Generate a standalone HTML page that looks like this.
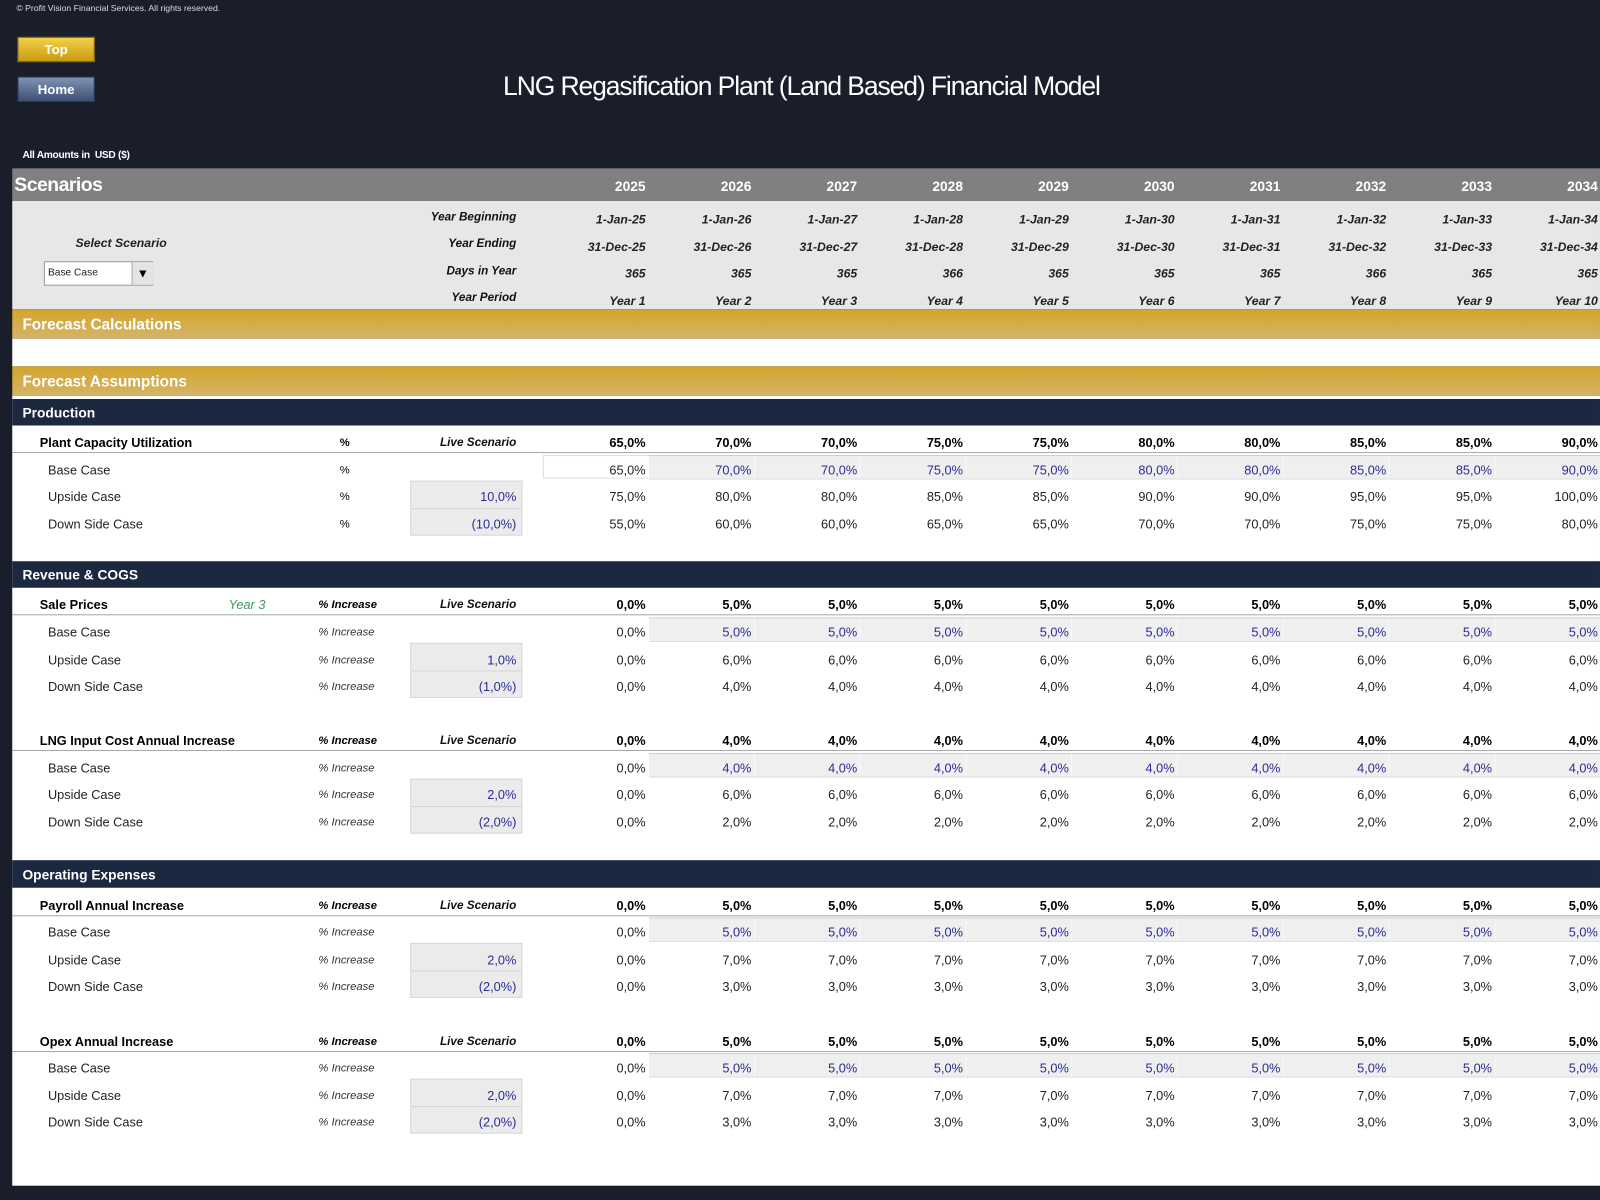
<!DOCTYPE html>
<html><head><meta charset="utf-8">
<style>
html,body{margin:0;padding:0;background:#1a1e2b;}
body{width:1600px;height:1200px;overflow:hidden;position:relative;font-family:"Liberation Sans",sans-serif;}
.s{position:absolute;left:0;top:0;width:1568px;height:1176px;transform:scale(1.0204);transform-origin:0 0;}
.a{position:absolute;white-space:nowrap;}
.r{position:absolute;left:529px;display:flex;height:16px;line-height:16px;font-size:12.5px;color:#222;margin-top:1px;}
.r span{width:103.7px;text-align:right;display:block;flex:none;}
.b{font-weight:bold;color:#000;}
.bl span{color:#2b2b95;}
.bl span:first-child{color:#222;}
.hd{color:#fff;font-weight:bold;font-size:13.5px;}
.it{font-style:italic;font-weight:bold;color:#222;font-size:12px;}
.lab{position:absolute;left:39px;font-weight:bold;font-size:12.5px;color:#000;line-height:16px;margin-top:1px;}
.sub{position:absolute;left:47px;font-size:12.5px;color:#222;line-height:16px;margin-top:1px;}
.u{position:absolute;left:312px;font-style:italic;font-size:11px;color:#333;line-height:16px;margin-top:1px;}
.ub{font-weight:bold;color:#000;}
.ls{position:absolute;right:1062px;font-style:italic;font-weight:bold;font-size:11.5px;color:#111;line-height:16px;margin-top:1px;}
.line{position:absolute;left:12px;width:1556px;height:1px;background:#a8a8a8;}
.band{position:absolute;left:636px;width:932px;height:22px;background:repeating-linear-gradient(90deg,#efefef 0,#efefef 102.7px,#fafafa 102.7px,#fafafa 103.7px);border-top:1px solid #ccc;border-bottom:1px solid #ddd;}
.box{position:absolute;left:402px;width:108px;height:52px;background:#ebebeb;border:1px solid #d8d8d8;}
.box:after{content:"";position:absolute;left:0;right:0;top:26px;height:1px;background:#d4d4d4;}
.bv{position:absolute;right:1062px;font-size:12.5px;color:#2b2b95;line-height:16px;margin-top:1px;}
.nav{position:absolute;left:12px;width:1556px;height:26px;background:#1c2740;}
.nav div{position:absolute;left:10px;top:6px;color:#fff;font-weight:bold;font-size:13.5px;}
.gold{position:absolute;left:12px;width:1556px;height:29px;background:linear-gradient(#d4a42c,#d3b468);}
.gold div{position:absolute;left:10px;top:7px;color:#fff;font-weight:bold;font-size:15px;}
</style></head><body><div class="s">

<div class="a" style="left:16px;top:3px;font-size:8.5px;color:#ddd;">© Profit Vision Financial Services. All rights reserved.</div>
<div class="a" style="left:17px;top:36px;width:76px;height:25px;background:linear-gradient(#f2d24a,#c99a10);border:1px solid #8a6d10;box-sizing:border-box;color:#fff;font-weight:bold;font-size:13px;text-align:center;line-height:23px;">Top</div>
<div class="a" style="left:17px;top:75px;width:76px;height:25px;background:linear-gradient(#7f93b5,#3d5073);border:1px solid #2d3a55;box-sizing:border-box;color:#fff;font-weight:bold;font-size:13px;text-align:center;line-height:23px;">Home</div>
<div class="a" style="left:493px;top:69px;font-size:26px;color:#fff;letter-spacing:-1.1px;">LNG Regasification Plant (Land Based) Financial Model</div>
<div class="a" style="left:22px;top:147px;font-size:10px;color:#fff;font-weight:bold;letter-spacing:-0.3px;">All Amounts in&nbsp; USD ($)</div>

<div class="a" style="left:12px;top:165px;width:1556px;height:32px;background:#808080;"></div>
<div class="a" style="left:14px;top:171px;font-size:19px;font-weight:bold;color:#fff;letter-spacing:-0.5px;">Scenarios</div>
<div class="r hd" style="top:174px;"><span>2025</span><span>2026</span><span>2027</span><span>2028</span><span>2029</span><span>2030</span><span>2031</span><span>2032</span><span>2033</span><span>2034</span></div>

<div class="a" style="left:12px;top:197px;width:1556px;height:106px;background:#e6e7e9;"></div>
<div class="ls" style="top:204px;">Year Beginning</div>
<div class="ls" style="top:230px;">Year Ending</div>
<div class="ls" style="top:257px;">Days in Year</div>
<div class="ls" style="top:283px;">Year Period</div>
<div class="a it" style="left:74px;top:231px;">Select Scenario</div>
<div class="a" style="left:43px;top:256px;width:107px;height:24px;background:#fff;border:1px solid #999;box-sizing:border-box;font-size:10px;line-height:22px;padding-left:3px;color:#222;">Base Case</div>
<div class="a" style="left:129px;top:257px;width:20px;height:22px;background:#e4e4e4;border-left:1px solid #aaa;text-align:center;font-size:12px;line-height:22px;">▼</div>
<div class="r it" style="top:206px;"><span>1-Jan-25</span><span>1-Jan-26</span><span>1-Jan-27</span><span>1-Jan-28</span><span>1-Jan-29</span><span>1-Jan-30</span><span>1-Jan-31</span><span>1-Jan-32</span><span>1-Jan-33</span><span>1-Jan-34</span></div>
<div class="r it" style="top:233px;"><span>31-Dec-25</span><span>31-Dec-26</span><span>31-Dec-27</span><span>31-Dec-28</span><span>31-Dec-29</span><span>31-Dec-30</span><span>31-Dec-31</span><span>31-Dec-32</span><span>31-Dec-33</span><span>31-Dec-34</span></div>
<div class="r it" style="top:259px;"><span>365</span><span>365</span><span>365</span><span>366</span><span>365</span><span>365</span><span>365</span><span>366</span><span>365</span><span>365</span></div>
<div class="r it" style="top:286px;"><span>Year 1</span><span>Year 2</span><span>Year 3</span><span>Year 4</span><span>Year 5</span><span>Year 6</span><span>Year 7</span><span>Year 8</span><span>Year 9</span><span>Year 10</span></div>

<div class="gold" style="top:303px;"><div>Forecast Calculations</div></div>
<div class="a" style="left:12px;top:332px;width:1556px;height:27px;background:#fff;"></div>
<div class="gold" style="top:359px;"><div>Forecast Assumptions</div></div>
<div class="a" style="left:12px;top:388px;width:1556px;height:774px;background:#fff;"></div>
<div class="nav" style="top:391px;"><div>Production</div></div>

<!-- Production -->
<div class="lab" style="top:425px;">Plant Capacity Utilization</div>
<div class="a" style="left:333px;top:426px;font-size:11px;line-height:16px;font-weight:bold;">%</div>
<div class="ls" style="top:425px;">Live Scenario</div>
<div class="r b" style="top:425px;"><span>65,0%</span><span>70,0%</span><span>70,0%</span><span>75,0%</span><span>75,0%</span><span>80,0%</span><span>80,0%</span><span>85,0%</span><span>85,0%</span><span>90,0%</span></div>
<div class="line" style="top:443px;"></div>
<div class="a" style="left:532px;top:446px;width:104px;height:23px;border:1px solid #ddd;border-right:none;box-sizing:border-box;"></div>
<div class="band" style="top:446px;"></div>
<div class="sub" style="top:452px;">Base Case</div>
<div class="a" style="left:333px;top:453px;font-size:11px;line-height:16px;">%</div>
<div class="r bl" style="top:452px;"><span>65,0%</span><span>70,0%</span><span>70,0%</span><span>75,0%</span><span>75,0%</span><span>80,0%</span><span>80,0%</span><span>85,0%</span><span>85,0%</span><span>90,0%</span></div>
<div class="box" style="top:471px;"></div>
<div class="sub" style="top:478px;">Upside Case</div>
<div class="a" style="left:333px;top:479px;font-size:11px;line-height:16px;">%</div>
<div class="bv" style="top:478px;">10,0%</div>
<div class="r" style="top:478px;"><span>75,0%</span><span>80,0%</span><span>80,0%</span><span>85,0%</span><span>85,0%</span><span>90,0%</span><span>90,0%</span><span>95,0%</span><span>95,0%</span><span>100,0%</span></div>
<div class="sub" style="top:505px;">Down Side Case</div>
<div class="a" style="left:333px;top:506px;font-size:11px;line-height:16px;">%</div>
<div class="bv" style="top:505px;">(10,0%)</div>
<div class="r" style="top:505px;"><span>55,0%</span><span>60,0%</span><span>60,0%</span><span>65,0%</span><span>65,0%</span><span>70,0%</span><span>70,0%</span><span>75,0%</span><span>75,0%</span><span>80,0%</span></div>

<div class="nav" style="top:550px;"><div>Revenue &amp; COGS</div></div>

<!-- Sale Prices -->
<div class="lab" style="top:584px;">Sale Prices</div>
<div class="a" style="left:224px;top:585px;font-style:italic;font-size:12.5px;color:#3a9a5a;line-height:16px;">Year 3</div>
<div class="u ub" style="top:584px;">% Increase</div>
<div class="ls" style="top:584px;">Live Scenario</div>
<div class="r b" style="top:584px;"><span>0,0%</span><span>5,0%</span><span>5,0%</span><span>5,0%</span><span>5,0%</span><span>5,0%</span><span>5,0%</span><span>5,0%</span><span>5,0%</span><span>5,0%</span></div>
<div class="line" style="top:602px;"></div>
<div class="band" style="top:605px;"></div>
<div class="sub" style="top:611px;">Base Case</div><div class="u" style="top:611px;">% Increase</div>
<div class="r bl" style="top:611px;"><span>0,0%</span><span>5,0%</span><span>5,0%</span><span>5,0%</span><span>5,0%</span><span>5,0%</span><span>5,0%</span><span>5,0%</span><span>5,0%</span><span>5,0%</span></div>
<div class="box" style="top:630px;"></div>
<div class="sub" style="top:638px;">Upside Case</div><div class="u" style="top:638px;">% Increase</div><div class="bv" style="top:638px;">1,0%</div>
<div class="r" style="top:638px;"><span>0,0%</span><span>6,0%</span><span>6,0%</span><span>6,0%</span><span>6,0%</span><span>6,0%</span><span>6,0%</span><span>6,0%</span><span>6,0%</span><span>6,0%</span></div>
<div class="sub" style="top:664px;">Down Side Case</div><div class="u" style="top:664px;">% Increase</div><div class="bv" style="top:664px;">(1,0%)</div>
<div class="r" style="top:664px;"><span>0,0%</span><span>4,0%</span><span>4,0%</span><span>4,0%</span><span>4,0%</span><span>4,0%</span><span>4,0%</span><span>4,0%</span><span>4,0%</span><span>4,0%</span></div>

<!-- LNG Input -->
<div class="lab" style="top:717px;">LNG Input Cost Annual Increase</div>
<div class="u ub" style="top:717px;">% Increase</div>
<div class="ls" style="top:717px;">Live Scenario</div>
<div class="r b" style="top:717px;"><span>0,0%</span><span>4,0%</span><span>4,0%</span><span>4,0%</span><span>4,0%</span><span>4,0%</span><span>4,0%</span><span>4,0%</span><span>4,0%</span><span>4,0%</span></div>
<div class="line" style="top:735px;"></div>
<div class="band" style="top:738px;"></div>
<div class="sub" style="top:744px;">Base Case</div><div class="u" style="top:744px;">% Increase</div>
<div class="r bl" style="top:744px;"><span>0,0%</span><span>4,0%</span><span>4,0%</span><span>4,0%</span><span>4,0%</span><span>4,0%</span><span>4,0%</span><span>4,0%</span><span>4,0%</span><span>4,0%</span></div>
<div class="box" style="top:763px;"></div>
<div class="sub" style="top:770px;">Upside Case</div><div class="u" style="top:770px;">% Increase</div><div class="bv" style="top:770px;">2,0%</div>
<div class="r" style="top:770px;"><span>0,0%</span><span>6,0%</span><span>6,0%</span><span>6,0%</span><span>6,0%</span><span>6,0%</span><span>6,0%</span><span>6,0%</span><span>6,0%</span><span>6,0%</span></div>
<div class="sub" style="top:797px;">Down Side Case</div><div class="u" style="top:797px;">% Increase</div><div class="bv" style="top:797px;">(2,0%)</div>
<div class="r" style="top:797px;"><span>0,0%</span><span>2,0%</span><span>2,0%</span><span>2,0%</span><span>2,0%</span><span>2,0%</span><span>2,0%</span><span>2,0%</span><span>2,0%</span><span>2,0%</span></div>

<div class="nav" style="top:843px;height:27px;"><div style="top:7px;">Operating Expenses</div></div>

<!-- Payroll -->
<div class="lab" style="top:879px;">Payroll Annual Increase</div>
<div class="u ub" style="top:879px;">% Increase</div>
<div class="ls" style="top:879px;">Live Scenario</div>
<div class="r b" style="top:879px;"><span>0,0%</span><span>5,0%</span><span>5,0%</span><span>5,0%</span><span>5,0%</span><span>5,0%</span><span>5,0%</span><span>5,0%</span><span>5,0%</span><span>5,0%</span></div>
<div class="line" style="top:897px;"></div>
<div class="band" style="top:899px;"></div>
<div class="sub" style="top:905px;">Base Case</div><div class="u" style="top:905px;">% Increase</div>
<div class="r bl" style="top:905px;"><span>0,0%</span><span>5,0%</span><span>5,0%</span><span>5,0%</span><span>5,0%</span><span>5,0%</span><span>5,0%</span><span>5,0%</span><span>5,0%</span><span>5,0%</span></div>
<div class="box" style="top:924px;"></div>
<div class="sub" style="top:932px;">Upside Case</div><div class="u" style="top:932px;">% Increase</div><div class="bv" style="top:932px;">2,0%</div>
<div class="r" style="top:932px;"><span>0,0%</span><span>7,0%</span><span>7,0%</span><span>7,0%</span><span>7,0%</span><span>7,0%</span><span>7,0%</span><span>7,0%</span><span>7,0%</span><span>7,0%</span></div>
<div class="sub" style="top:958px;">Down Side Case</div><div class="u" style="top:958px;">% Increase</div><div class="bv" style="top:958px;">(2,0%)</div>
<div class="r" style="top:958px;"><span>0,0%</span><span>3,0%</span><span>3,0%</span><span>3,0%</span><span>3,0%</span><span>3,0%</span><span>3,0%</span><span>3,0%</span><span>3,0%</span><span>3,0%</span></div>

<!-- Opex -->
<div class="lab" style="top:1012px;">Opex Annual Increase</div>
<div class="u ub" style="top:1012px;">% Increase</div>
<div class="ls" style="top:1012px;">Live Scenario</div>
<div class="r b" style="top:1012px;"><span>0,0%</span><span>5,0%</span><span>5,0%</span><span>5,0%</span><span>5,0%</span><span>5,0%</span><span>5,0%</span><span>5,0%</span><span>5,0%</span><span>5,0%</span></div>
<div class="line" style="top:1030px;"></div>
<div class="band" style="top:1032px;"></div>
<div class="sub" style="top:1038px;">Base Case</div><div class="u" style="top:1038px;">% Increase</div>
<div class="r bl" style="top:1038px;"><span>0,0%</span><span>5,0%</span><span>5,0%</span><span>5,0%</span><span>5,0%</span><span>5,0%</span><span>5,0%</span><span>5,0%</span><span>5,0%</span><span>5,0%</span></div>
<div class="box" style="top:1057px;"></div>
<div class="sub" style="top:1065px;">Upside Case</div><div class="u" style="top:1065px;">% Increase</div><div class="bv" style="top:1065px;">2,0%</div>
<div class="r" style="top:1065px;"><span>0,0%</span><span>7,0%</span><span>7,0%</span><span>7,0%</span><span>7,0%</span><span>7,0%</span><span>7,0%</span><span>7,0%</span><span>7,0%</span><span>7,0%</span></div>
<div class="sub" style="top:1091px;">Down Side Case</div><div class="u" style="top:1091px;">% Increase</div><div class="bv" style="top:1091px;">(2,0%)</div>
<div class="r" style="top:1091px;"><span>0,0%</span><span>3,0%</span><span>3,0%</span><span>3,0%</span><span>3,0%</span><span>3,0%</span><span>3,0%</span><span>3,0%</span><span>3,0%</span><span>3,0%</span></div>

</div></body></html>
